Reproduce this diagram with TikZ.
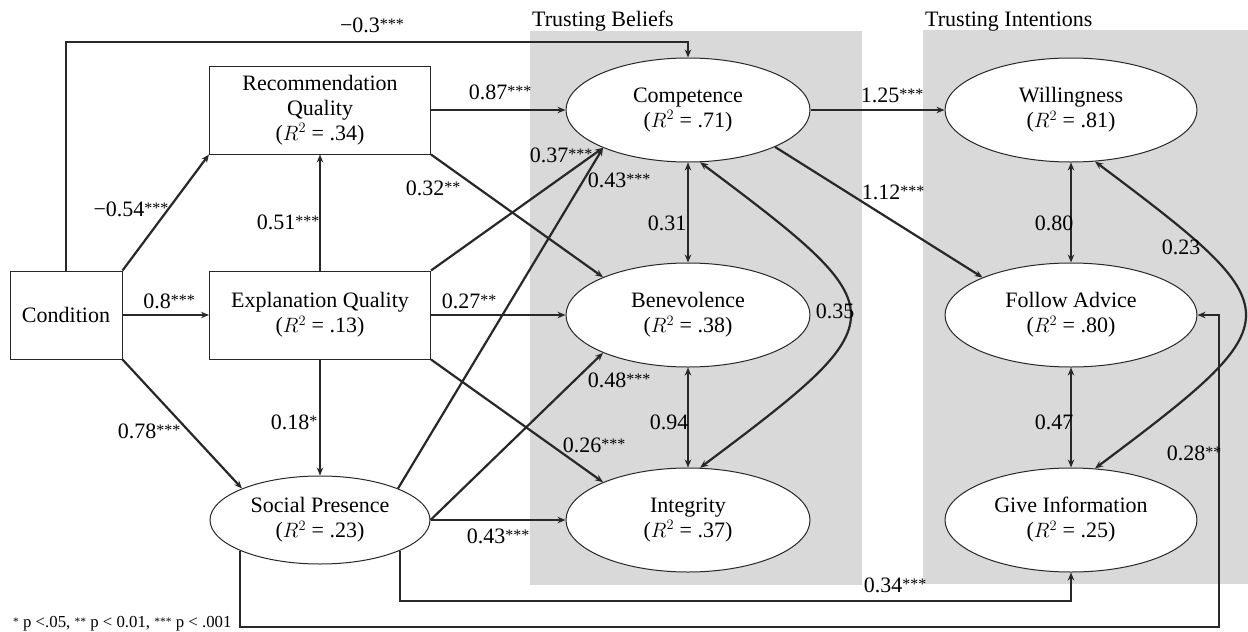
\documentclass[tikz,border=0pt]{standalone}
\usepackage{fontspec}
\setmainfont{Liberation Serif}
\usepackage{tikz}
\usetikzlibrary{arrows.meta, positioning, shapes.geometric}
\usepackage{xcolor}
\definecolor{panelgray}{RGB}{217,217,217}
\definecolor{dline}{RGB}{40,40,40}
\newcommand{\pstar}[1]{\raisebox{2.5pt}{\fontsize{16}{16}\selectfont#1}}
\newcommand{\nstar}[1]{\raisebox{1.5pt}{\fontsize{11.5}{11.5}\selectfont#1}}

\begin{document}
\begin{tikzpicture}[x=1pt, y=-1pt, font=\fontsize{22}{25}\selectfont,
  box/.style={draw=dline, line width=1pt, fill=white, minimum height=88pt, inner sep=0pt, align=center},
  ell/.style={ellipse, draw=dline, line width=1pt, fill=white, minimum height=104pt, inner sep=0pt, align=center},
  arr/.style={draw=dline, line width=2.2pt, -{Stealth[length=8pt,width=6.5pt]}},
  darr/.style={arr, {Stealth[length=8pt,width=6.5pt]}-{Stealth[length=8pt,width=6.5pt]}},
  lbl/.style={anchor=base, inner sep=0pt}]
  \useasboundingbox (0,0) rectangle (1248,632);

  % Panels
  \fill[panelgray] (530,31) rectangle (862,585);
  \fill[panelgray] (923,30) rectangle (1248,584);
  \node[lbl, anchor=base west] (tb) at (532,26) {Trusting Beliefs};
  \node[lbl, anchor=base west] (ti) at (925,26) {Trusting Intentions};

  % Constructs
  \node[box, minimum width=112pt] (cond) at (66,315) {Condition};
  \node[box, minimum width=221pt] (rq) at (320,110) {Recommendation\\Quality\\($R^2$ = .34)};
  \node[box, minimum width=221pt] (eq) at (320,315) {Explanation Quality\\($R^2$ = .13)};
  \node[ell, minimum width=220pt, minimum height=88pt] (sp) at (320,520) {Social Presence\\($R^2$ = .23)};
  \node[ell, minimum width=244pt] (comp) at (688,110) {Competence\\($R^2$ = .71)};
  \node[ell, minimum width=244pt] (ben) at (688,315) {Benevolence\\($R^2$ = .38)};
  \node[ell, minimum width=244pt] (integ) at (688,520) {Integrity\\($R^2$ = .37)};
  \node[ell, minimum width=252pt] (will) at (1071,110) {Willingness\\($R^2$ = .81)};
  \node[ell, minimum width=252pt] (fa) at (1071,315) {Follow Advice\\($R^2$ = .80)};
  \node[ell, minimum width=252pt] (gi) at (1071,520) {Give Information\\($R^2$ = .25)};

  % Paths
  \foreach \a/\b in {cond.east/eq.west, cond.north east/rq.south west, cond.south east/sp.158,
    eq.north/rq.south, eq.south/sp.north, rq.east/comp.west, eq.east/ben.west, sp.east/integ.west,
    rq.south east/ben.156, eq.north east/comp.204, sp.22/comp.204, eq.south east/integ.156,
    sp.east/ben.204, comp.east/will.west, comp.337/fa.157}
    \draw[arr] (\a) -- (\b);

  % Covariances
  \foreach \a/\b in {comp.south/ben.north, ben.south/integ.north, will.south/fa.north, fa.south/gi.north}
    \draw[darr] (\a) -- (\b);
  \draw[darr] (comp.-77) .. controls +(200,150) and +(200,-150) .. (integ.77);
  \draw[darr] (will.-65) .. controls +(200,150) and +(200,-150) .. (gi.65);

  % Elbow paths
  \coordinate (c03) at (400,42);
  \coordinate (c28) at (1219,627);
  \coordinate (c34) at (700,601);
  \draw[arr] (cond.north) |- (c03) -| (comp.north);
  \draw[arr] (sp.201) |- (c28) |- (fa.east);
  \draw[arr] (sp.339) |- (c34) -| (gi.south);

  % Coefficients
  \foreach \x/\y/\t [count=\i] in {
    372/32/{−0.3\pstar{***}}, 500/99/{0.87\pstar{***}}, 892/102/{1.25\pstar{***}},
    131/216/{−0.54\pstar{***}}, 288/229/{0.51\pstar{***}}, 433/195/{0.32\pstar{**}},
    561/162/{0.37\pstar{***}}, 619/187/{0.43\pstar{***}}, 169/308/{0.8\pstar{***}},
    469/308/{0.27\pstar{**}}, 667/230/{0.31}, 893/199/{1.12\pstar{***}},
    1054/230/{0.80}, 1181/254/{0.23}, 835/318/{0.35},
    149/438/{0.78\pstar{***}}, 294/429/{0.18\pstar{*}}, 619/387/{0.48\pstar{***}},
    594/452/{0.26\pstar{***}}, 669/429/{0.94}, 1054/429/{0.47},
    1194/460/{0.28\pstar{**}}, 498/543/{0.43\pstar{***}}, 895/592/{0.34\pstar{***}}
  }{
    \node[lbl] (w\i) at (\x,\y) {\t};
  }
  \node[lbl, anchor=base west, font=\fontsize{16.8}{18}\selectfont] (note) at (13,627)
    {\nstar{*} p <.05, \nstar{**} p < 0.01, \nstar{***} p < .001};
\end{tikzpicture}
\end{document}
